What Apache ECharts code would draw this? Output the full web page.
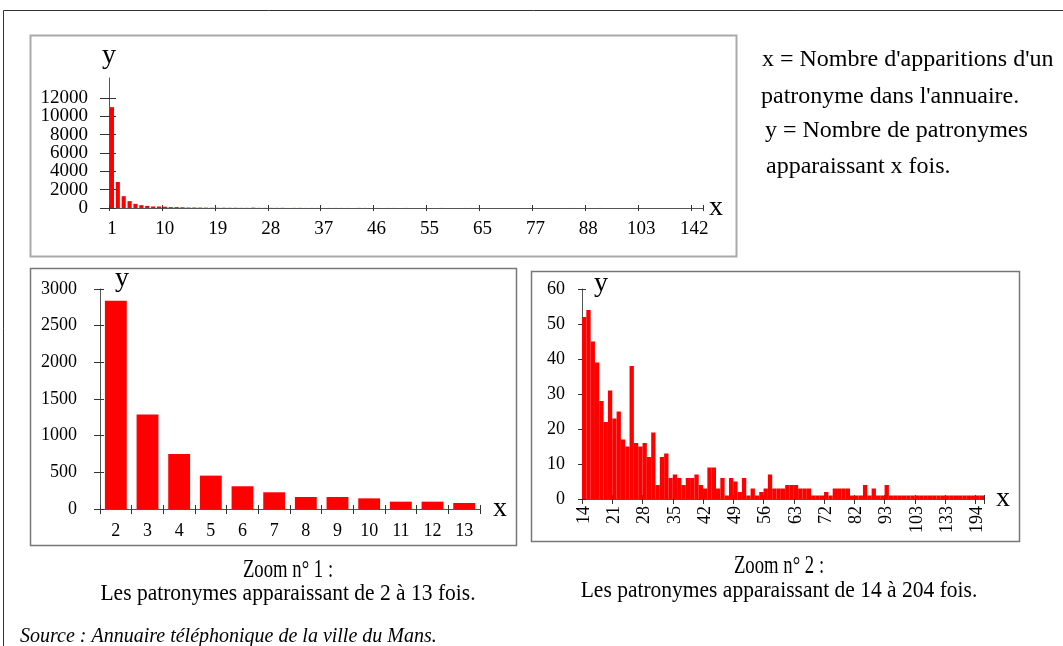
<!DOCTYPE html>
<html>
<head>
<meta charset="utf-8">
<title>Patronymes - annuaire du Mans</title>
<script src="https://cdn.jsdelivr.net/npm/echarts@6/dist/echarts.min.js"></script>
<style>
  html, body { margin: 0; padding: 0; background: #fff; }
  #myCharts { width: 1063px; height: 646px; }
</style>
</head>
<body>
<div id="myCharts"></div>
<script>
// x = nombre d'apparitions d'un patronyme, y = nombre de patronymes apparaissant x fois
const xOne = 1
const yOne = 11000

// zoom n°1 : 2 a 13 fois
const xZoom1 = [2, 3, 4, 5, 6, 7, 8, 9, 10, 11, 12, 13]
const yZoom1 = [2840, 1290, 750, 455, 310, 228, 164, 164, 145, 100, 100, 82]

// zoom n°2 : 14 a 204 fois (seulement les x presents dans l'annuaire)
const xZoom2 = [14, 15, 16, 17, 18, 19, 20, 21, 22, 23, 24, 25, 26, 27, 28, 29, 30, 31, 32, 33,
  34, 35, 36, 37, 38, 39, 40, 41, 42, 43, 44, 45, 46, 47, 48, 49, 50, 51, 52, 53,
  54, 55, 56, 57, 58, 59, 60, 61, 62, 63, 65, 66, 67, 68, 70, 71, 72, 74, 75, 77,
  78, 79, 81, 82, 83, 84, 86, 87, 88, 90, 93, 94, 95, 96, 98, 99, 101, 103, 104, 106,
  109, 113, 118, 125, 133, 138, 142, 150, 162, 171, 180, 194, 204]
const yZoom2 = [52, 54, 45, 39, 28, 22, 31, 23, 25, 17, 15, 38, 16, 15, 16, 12, 19, 4, 12, 13,
  6, 7, 6, 4, 6, 6, 7, 4, 3, 9, 9, 3, 6, 1, 6, 5, 2, 6, 1, 3,
  1, 2, 3, 7, 3, 3, 3, 4, 4, 4, 3, 3, 3, 1, 1, 1, 2, 1, 3, 3,
  3, 3, 1, 1, 1, 4, 1, 3, 1, 1, 4, 1, 1, 1, 1, 1, 1, 1, 1, 1,
  1, 1, 1, 1, 1, 1, 1, 1, 1, 1, 1, 1, 1]

// graduations
const yTicksTop = [0, 2000, 4000, 6000, 8000, 10000, 12000]
const yTicksZoom1 = [0, 500, 1000, 1500, 2000, 2500, 3000]
const yTicksZoom2 = [0, 10, 20, 30, 40, 50, 60]

// le graphique du haut s'arrete juste apres 142
const xTop = [xOne].concat(xZoom1, xZoom2).slice(0, 101)
const yTop = [yOne].concat(yZoom1, yZoom2).slice(0, 101)

const FONT = 'Liberation Serif'
const RED = '#ff0000'
const LINE = '#555'
const TICK = '#333'

// deux axes superposes pour que les graduations traversent la ligne d'axe
function xAxes (grid, cats, o) {
  return [
    {
      type: 'category', gridIndex: grid, position: 'bottom', data: cats,
      axisLine: { show: true, lineStyle: { color: LINE } },
      axisTick: { show: true, interval: o.interval, length: o.tick, lineStyle: { color: TICK } },
      axisLabel: {
        interval: o.interval, margin: o.margin, rotate: o.rotate || 0,
        color: '#000', fontFamily: FONT, fontSize: o.fontSize
      },
      splitLine: { show: false },
      name: 'x', nameLocation: 'end', nameGap: o.nameGap, nameMoveOverlap: false,
      nameTextStyle: { fontFamily: FONT, fontSize: 28, color: '#000', verticalAlign: 'middle' }
    },
    {
      type: 'category', gridIndex: grid, position: 'bottom', data: cats,
      axisLine: { show: false },
      axisTick: { show: true, inside: true, interval: o.interval, length: o.tickIn, lineStyle: { color: TICK } },
      axisLabel: { show: false },
      splitLine: { show: false }
    }
  ]
}

// les etiquettes sont partagees entre les deux axes (une sur deux) pour
// qu'aucune ne soit masquee quand elles sont serrees
function yAxes (grid, ticks, o) {
  const evenLabels = ticks.filter(function (t, i) { return i % 2 === 0 })
  const oddLabels = ticks.filter(function (t, i) { return i % 2 === 1 })
  const labelStyle = {
    margin: o.margin, showMinLabel: true, showMaxLabel: true, hideOverlap: false,
    formatter: function (v) { return String(v) },
    color: '#000', fontFamily: FONT, fontSize: o.fontSize
  }
  return [
    {
      type: 'value', gridIndex: grid, position: 'left', min: 0, max: o.max,
      axisLine: { show: true, lineStyle: { color: LINE } },
      axisTick: { show: true, length: o.tick, customValues: ticks, lineStyle: { color: TICK } },
      axisLabel: Object.assign({ customValues: evenLabels }, labelStyle),
      splitLine: { show: false },
      name: 'y', nameLocation: 'end', nameGap: o.nameGap, nameMoveOverlap: false,
      nameTextStyle: { fontFamily: FONT, fontSize: 28, color: '#000', padding: [0, 0, 0, o.nameShift] }
    },
    {
      type: 'value', gridIndex: grid, position: 'left', min: 0, max: o.max,
      axisLine: { show: false },
      axisTick: { show: true, inside: true, length: o.tickIn, customValues: ticks, lineStyle: { color: TICK } },
      axisLabel: Object.assign({ customValues: oddLabels }, labelStyle),
      splitLine: { show: false }
    }
  ]
}

function label (text, x, y, size, extra) {
  return Object.assign({
    type: 'text', x: x, y: y, silent: true,
    style: Object.assign({
      text: text, fontFamily: FONT, fontSize: size, fill: '#000',
      align: 'left', verticalAlign: 'middle'
    }, (extra && extra.style) || {})
  }, extra && extra.scaleX ? { scaleX: extra.scaleX } : {})
}

const myCharts = echarts.init(document.getElementById('myCharts'))

const option = {
  animation: false,
  backgroundColor: '#fff',
  grid: [
    { left: 109, top: 78, width: 594, height: 130, outerBoundsMode: 'none' },
    { left: 100, top: 289, width: 380, height: 220, outerBoundsMode: 'none' },
    { left: 582, top: 289, width: 402, height: 210, outerBoundsMode: 'none' }
  ],
  xAxis: [].concat(
    xAxes(0, xTop, { interval: 8, tick: 3, tickIn: 3, margin: 12, fontSize: 19, nameGap: 6 }),
    xAxes(1, xZoom1, { interval: 0, tick: 5, tickIn: 4, margin: 13, fontSize: 18, nameGap: 13 }),
    xAxes(2, xZoom2, { interval: 6, tick: 5, tickIn: 4, margin: 7, fontSize: 18, rotate: 90, nameGap: 12 })
  ),
  yAxis: [].concat(
    // axe prolonge au-dessus de 12000 comme dans l'original
    yAxes(0, yTicksTop, { max: 14182, tick: 9, tickIn: 7, margin: 21, fontSize: 19, nameGap: 8, nameShift: 0 }),
    yAxes(1, yTicksZoom1, { max: 3000, tick: 6, tickIn: 4, margin: 23, fontSize: 18, nameGap: -4, nameShift: 44 }),
    yAxes(2, yTicksZoom2, { max: 60, tick: 4, tickIn: 4, margin: 17, fontSize: 18, nameGap: -9, nameShift: 38 })
  ),
  series: [
    { type: 'bar', xAxisIndex: 0, yAxisIndex: 0, data: yTop, barCategoryGap: '30%', itemStyle: { color: RED }, silent: true },
    { type: 'bar', xAxisIndex: 2, yAxisIndex: 2, data: yZoom1, barCategoryGap: '31%', itemStyle: { color: RED }, silent: true },
    { type: 'bar', xAxisIndex: 4, yAxisIndex: 4, data: yZoom2, barCategoryGap: '0%', itemStyle: { color: RED }, silent: true }
  ],
  graphic: [
    // cadre general et cadres des trois graphiques
    { type: 'rect', silent: true, shape: { x: 3.5, y: 10.5, width: 1100, height: 700 }, style: { fill: 'none', stroke: '#333', lineWidth: 1 } },
    { type: 'rect', silent: true, shape: { x: 30.5, y: 35.5, width: 706, height: 221 }, style: { fill: 'none', stroke: '#aaa', lineWidth: 2 } },
    { type: 'rect', silent: true, shape: { x: 30.5, y: 268.5, width: 486, height: 277 }, style: { fill: 'none', stroke: '#777', lineWidth: 1.5 } },
    { type: 'rect', silent: true, shape: { x: 531.5, y: 271.5, width: 488, height: 270 }, style: { fill: 'none', stroke: '#777', lineWidth: 1.5 } },

    label("x = Nombre d'apparitions d'un", 762, 60, 24),
    label("patronyme dans l'annuaire.", 761, 97, 24),
    label('y = Nombre de patronymes', 765, 131, 24),
    label('apparaissant x fois.', 766, 167, 24),

    label('Zoom n° 1 :', 288, 570, 26, { scaleX: 0.72, style: { align: 'center' } }),
    label('Les patronymes apparaissant de 2 à 13 fois.', 288, 594, 23, { scaleX: 0.935, style: { align: 'center' } }),
    label('Zoom n° 2 :', 779, 566, 26, { scaleX: 0.72, style: { align: 'center' } }),
    label('Les patronymes apparaissant de 14 à 204 fois.', 779, 591, 23, { scaleX: 0.935, style: { align: 'center' } }),
    label('Source : Annuaire téléphonique de la ville du Mans.', 20, 637, 20, { style: { fontStyle: 'italic' } })
  ]
}

myCharts.setOption(option)
</script>
</body>
</html>
